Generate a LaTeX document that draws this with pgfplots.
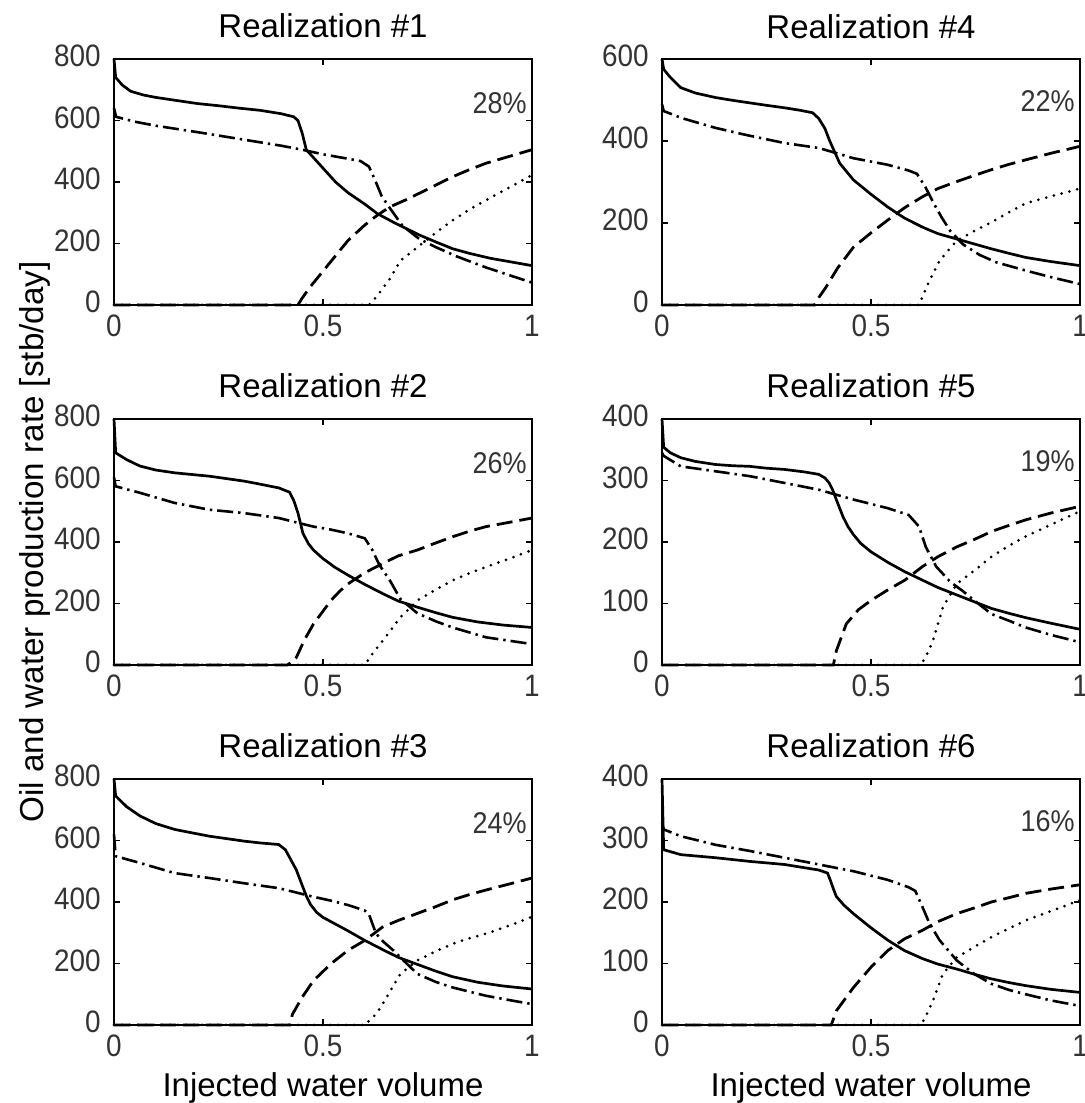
\documentclass[border=0pt]{standalone}
\usepackage{fontspec}
\setmainfont{Liberation Sans}
\newfontfamily\tickfont[FakeStretch=0.9]{Liberation Sans}
\usepackage{pgfplots}
\pgfplotsset{compat=1.18}
\tikzset{pct/.style={anchor=base east, inner sep=0pt, font=\tickfont\fontsize{15}{15}\selectfont, text=black!80}}
\pgfplotsset{
  panel/.style={
    scale only axis, width=209pt, height=123pt,
    xmin=0, xmax=1, ymin=0, clip=false,
    xtick={0,0.5,1},
    tick align=inside, major tick length=3pt,
    axis line style={black, line width=0.8pt},
    tick style={black, line width=0.6pt},
    /pgf/number format/assume math mode=true,
    ticklabel style={font=\tickfont\fontsize{15.5}{15.5}\selectfont, text=black!80},
    xticklabel style={anchor=base, inner sep=0pt, yshift=-16pt},
    yticklabel style={anchor=east, inner sep=0pt, xshift=-6.5pt, yshift=1.5pt},
    title style={at={(0.5,1)}, anchor=base, yshift=4.5pt, font=\fontsize{16.5}{16.5}\selectfont},
    xlabel style={at={(0.5,0)}, anchor=base, yshift=-36pt, font=\fontsize{16.5}{16.5}\selectfont},
  },
  oilA/.style={black, line width=1.35pt},
  oilB/.style={black, line width=1.3pt, dash pattern=on 8pt off 2.5pt on 1.2pt off 2.5pt},
  watA/.style={black, line width=1.4pt, dash pattern=on 8pt off 3.5pt},
  watB/.style={black, line width=1.5pt, line cap=round, dash pattern=on 0pt off 4pt},
}
\begin{document}
\begin{tikzpicture}
\path[use as bounding box] (0,0) rectangle (542pt,551.5pt);

% Realization #1
\begin{axis}[panel, at={(57pt,399pt)}, anchor=south west, ymax=800, ytick={0,200,400,600,800}, title={Realization \#1}]
\addplot[oilA] coordinates {(0,800)(0.004,740)(0.02,715)(0.04,695)(0.07,683)(0.1,675)(0.15,665)(0.2,655)(0.25,648)(0.3,640)(0.35,633)(0.4,622)(0.43,612)(0.44,600)(0.45,560)(0.46,505)(0.48,475)(0.5,445)(0.53,400)(0.56,365)(0.6,328)(0.63,297)(0.67,268)(0.7,248)(0.73,228)(0.77,205)(0.81,183)(0.85,168)(0.9,152)(0.95,140)(1,128)};
\addplot[oilB] coordinates {(0,640)(0.005,612)(0.05,596)(0.1,583)(0.2,562)(0.3,540)(0.4,518)(0.45,505)(0.5,490)(0.55,478)(0.59,468)(0.61,450)(0.625,405)(0.64,355)(0.66,315)(0.69,258)(0.73,215)(0.77,188)(0.82,158)(0.89,122)(0.95,95)(1,73)};
\addplot[watA] coordinates {(0,0)(0.44,0)(0.45,22)(0.47,60)(0.5,110)(0.53,160)(0.56,210)(0.6,260)(0.63,292)(0.66,319)(0.7,343)(0.73,363)(0.77,390)(0.81,417)(0.85,440)(0.89,461)(0.95,485)(1,505)};
\addplot[watB] coordinates {(0,0)(0.61,0)(0.63,30)(0.66,85)(0.685,144)(0.726,188)(0.77,235)(0.81,275)(0.85,310)(0.89,341)(0.95,385)(1,423)};
\node[pct] at (rel axis cs:0.988,0.78) {28\%};
\end{axis}

% Realization #4
\begin{axis}[panel, at={(331pt,399pt)}, anchor=south west, ymax=600, ytick={0,200,400,600}, title={Realization \#4}]
\addplot[oilA] coordinates {(0,600)(0.004,575)(0.02,555)(0.045,530)(0.08,517)(0.128,506)(0.17,499)(0.21,493)(0.25,487)(0.293,481)(0.33,475)(0.36,469)(0.375,455)(0.39,430)(0.4,403)(0.425,346)(0.458,305)(0.5,270)(0.54,239)(0.58,212)(0.623,190)(0.66,174)(0.705,161)(0.75,148)(0.788,137)(0.83,126)(0.87,116)(0.93,106)(1,96)};
\addplot[oilB] coordinates {(0,490)(0.004,473)(0.05,455)(0.128,432)(0.2,415)(0.293,395)(0.375,383)(0.458,358)(0.54,342)(0.59,328)(0.61,320)(0.63,288)(0.65,248)(0.67,212)(0.69,180)(0.72,148)(0.76,122)(0.8,104)(0.87,84)(0.93,68)(1,51)};
\addplot[watA] coordinates {(0,0)(0.365,0)(0.375,18)(0.392,43)(0.42,90)(0.458,141)(0.5,176)(0.54,207)(0.58,237)(0.623,264)(0.66,284)(0.705,301)(0.75,317)(0.788,330)(0.83,343)(0.87,354)(0.93,370)(1,387)};
\addplot[watB] coordinates {(0,0)(0.615,0)(0.623,20)(0.64,60)(0.664,108)(0.705,157)(0.75,182)(0.788,202)(0.83,226)(0.87,248)(0.93,265)(1,284)};
\node[pct] at (rel axis cs:0.988,0.785) {22\%};
\end{axis}

% Realization #2
\begin{axis}[panel, at={(57pt,219pt)}, anchor=south west, ymax=800, ytick={0,200,400,600,800}, title={Realization \#2}]
\addplot[oilA] coordinates {(0,800)(0.004,690)(0.03,668)(0.062,647)(0.1,634)(0.145,625)(0.19,619)(0.228,614)(0.27,606)(0.311,598)(0.35,588)(0.394,576)(0.42,562)(0.43,535)(0.44,495)(0.452,428)(0.465,395)(0.477,374)(0.5,346)(0.527,319)(0.56,292)(0.6,262)(0.643,232)(0.68,208)(0.726,188)(0.77,170)(0.81,155)(0.87,140)(0.93,130)(1,122)};
\addplot[oilB] coordinates {(0,610)(0.004,581)(0.062,560)(0.145,527)(0.228,505)(0.311,494)(0.394,478)(0.477,450)(0.52,440)(0.56,428)(0.6,412)(0.618,374)(0.635,325)(0.66,275)(0.685,215)(0.726,168)(0.77,142)(0.81,122)(0.89,90)(0.95,78)(1,68)};
\addplot[watA] coordinates {(0,0)(0.415,0)(0.425,10)(0.436,24)(0.455,80)(0.477,133)(0.5,175)(0.519,210)(0.54,240)(0.56,264)(0.6,300)(0.643,330)(0.68,355)(0.726,374)(0.77,397)(0.81,417)(0.85,435)(0.89,450)(0.95,465)(1,478)};
\addplot[watB] coordinates {(0,0)(0.6,0)(0.62,40)(0.643,79)(0.685,155)(0.726,210)(0.77,245)(0.81,275)(0.85,298)(0.89,319)(0.95,348)(1,374)};
\node[pct] at (rel axis cs:0.988,0.78) {26\%};
\end{axis}

% Realization #5
\begin{axis}[panel, at={(331pt,219pt)}, anchor=south west, ymax=400, ytick={0,100,200,300,400}, title={Realization \#5}]
\addplot[oilA] coordinates {(0,400)(0.004,354)(0.02,345)(0.045,337)(0.08,331)(0.128,326)(0.17,324)(0.21,323)(0.25,320)(0.293,318)(0.34,314)(0.375,310)(0.39,304)(0.4,296)(0.408,285)(0.417,269)(0.433,241)(0.445,225)(0.458,212)(0.475,198)(0.5,184)(0.54,167)(0.58,152)(0.623,138)(0.66,126)(0.705,114)(0.75,102)(0.788,92)(0.83,84)(0.87,77)(0.93,68)(1,58)};
\addplot[oilB] coordinates {(0,345)(0.004,340)(0.045,323)(0.128,315)(0.21,307)(0.293,296)(0.375,285)(0.458,269)(0.54,255)(0.59,244)(0.615,225)(0.631,192)(0.656,160)(0.69,135)(0.72,120)(0.747,105)(0.788,83)(0.83,72)(0.87,61)(0.93,49)(1,37)};
\addplot[watA] coordinates {(0,0)(0.41,0)(0.417,23)(0.441,67)(0.47,90)(0.5,105)(0.54,122)(0.581,138)(0.623,160)(0.66,176)(0.705,192)(0.75,205)(0.788,217)(0.83,227)(0.87,236)(0.93,247)(1,258)};
\addplot[watB] coordinates {(0,0)(0.62,0)(0.632,15)(0.648,39)(0.672,94)(0.705,132)(0.75,155)(0.788,176)(0.83,194)(0.87,209)(0.93,228)(1,250)};
\node[pct] at (rel axis cs:0.988,0.785) {19\%};
\end{axis}

% Realization #3
\begin{axis}[panel, at={(57pt,39pt)}, anchor=south west, ymax=800, ytick={0,200,400,600,800}, title={Realization \#3}, xlabel={Injected water volume}]
\addplot[oilA] coordinates {(0,800)(0.004,745)(0.03,710)(0.062,680)(0.1,655)(0.145,636)(0.19,624)(0.228,614)(0.27,606)(0.311,598)(0.35,592)(0.394,587)(0.41,570)(0.42,545)(0.436,505)(0.45,455)(0.46,420)(0.47,392)(0.485,366)(0.5,350)(0.53,328)(0.56,306)(0.6,275)(0.643,245)(0.68,220)(0.726,197)(0.77,175)(0.81,157)(0.87,139)(0.93,127)(1,117)};
\addplot[oilB] coordinates {(0,620)(0.004,549)(0.062,527)(0.145,494)(0.228,478)(0.311,461)(0.394,445)(0.477,417)(0.52,404)(0.56,390)(0.6,372)(0.61,360)(0.618,330)(0.627,297)(0.645,270)(0.668,243)(0.7,200)(0.726,166)(0.77,140)(0.81,122)(0.89,95)(0.95,80)(1,68)};
\addplot[watA] coordinates {(0,0)(0.42,0)(0.427,35)(0.45,90)(0.477,144)(0.519,199)(0.56,243)(0.6,275)(0.643,319)(0.68,340)(0.726,363)(0.77,385)(0.81,407)(0.85,424)(0.89,439)(0.95,460)(1,478)};
\addplot[watB] coordinates {(0,0)(0.6,0)(0.627,35)(0.65,85)(0.685,166)(0.726,210)(0.77,240)(0.81,264)(0.85,282)(0.89,297)(0.95,325)(1,352)};
\node[pct] at (rel axis cs:0.988,0.78) {24\%};
\end{axis}

% Realization #6
\begin{axis}[panel, at={(331pt,39pt)}, anchor=south west, ymax=400, ytick={0,100,200,300,400}, title={Realization \#6}, xlabel={Injected water volume}]
\addplot[oilA] coordinates {(0,400)(0.004,285)(0.045,277)(0.128,272)(0.21,266)(0.293,261)(0.375,252)(0.396,247)(0.403,235)(0.408,225)(0.417,209)(0.435,195)(0.458,181)(0.5,158)(0.54,138)(0.58,121)(0.623,108)(0.66,99)(0.705,91)(0.75,82)(0.788,75)(0.83,69)(0.87,64)(0.93,58)(1,53)};
\addplot[oilB] coordinates {(0,330)(0.004,318)(0.045,307)(0.128,293)(0.21,283)(0.293,272)(0.375,261)(0.458,250)(0.54,236)(0.59,224)(0.606,218)(0.623,192)(0.64,165)(0.664,138)(0.705,105)(0.747,83)(0.788,67)(0.83,57)(0.87,50)(0.93,40)(1,31)};
\addplot[watA] coordinates {(0,0)(0.405,0)(0.417,23)(0.458,61)(0.5,94)(0.54,121)(0.58,140)(0.623,154)(0.66,168)(0.705,181)(0.75,191)(0.788,200)(0.83,207)(0.87,214)(0.93,221)(1,228)};
\addplot[watB] coordinates {(0,0)(0.62,0)(0.635,20)(0.648,39)(0.672,83)(0.705,110)(0.75,128)(0.788,143)(0.83,157)(0.87,170)(0.93,185)(1,203)};
\node[pct] at (rel axis cs:0.988,0.785) {16\%};
\end{axis}

\node[rotate=90, anchor=base, inner sep=0pt, font=\fontsize{16.6}{16.6}\selectfont] at (21.5pt,280.5pt) {Oil and water production rate [stb/day]};
\end{tikzpicture}
\end{document}
